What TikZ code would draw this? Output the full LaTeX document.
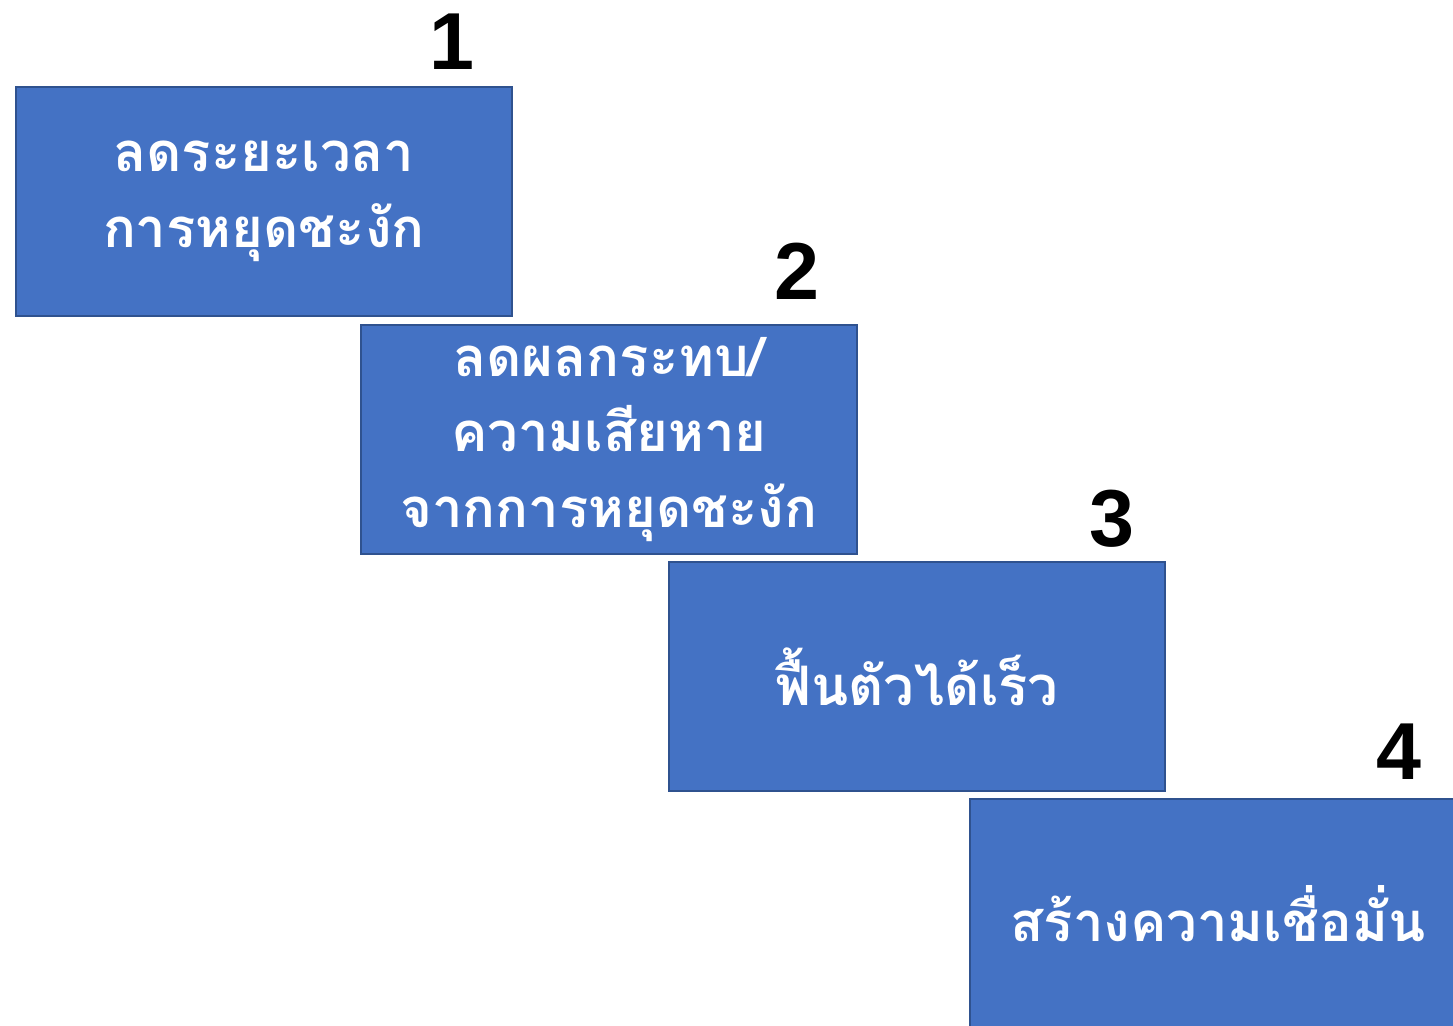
\documentclass[tikz,border=0pt]{standalone}
\usepackage{fontspec}
\usepackage{tikz}
\usetikzlibrary{calc,positioning}
\newfontfamily\thaifont[Script=Thai]{Loma}
\setmainfont{Liberation Sans}
\definecolor{boxblue}{HTML}{4472C4}
\definecolor{boxedge}{HTML}{2F528F}
\tikzset{
  stepbox/.style={draw=boxedge,line width=1.1pt,fill=boxblue,text=white,anchor=north west,
    minimum width=9.92cm,minimum height=4.58cm,inner sep=0pt,align=center,
    font=\thaifont\bfseries\fontsize{31}{43}\selectfont},
  stepnum/.style={anchor=south,inner sep=0pt,font=\bfseries\fontsize{46}{46}\selectfont}
}
\begin{document}
\begin{tikzpicture}[x=0.02cm,y=-0.02cm]
\useasboundingbox (0,0) rectangle (1453,1025);
\node[stepbox] (box1) at (15,86) {ลดระยะเวลา\\การหยุดชะงัก};
\node[stepbox] (box2) at (360,324) {ลดผลกระทบ/\\ความเสียหาย\\จากการหยุดชะงัก};
\node[stepbox] (box3) at (668,561) {ฟื้นตัวได้เร็ว};
\node[stepbox] (box4) at (969,798) {สร้างความเชื่อมั่น};
\node[stepnum] (num1) at ($(box1.north east)+(-61,-16)$) {1};
\node[stepnum] (num2) at ($(box2.north east)+(-61,-24)$) {2};
\node[stepnum] (num3) at ($(box3.north east)+(-54,-13)$) {3};
\node[stepnum] (num4) at ($(box4.north east)+(-68,-18)$) {4};
\end{tikzpicture}
\end{document}
